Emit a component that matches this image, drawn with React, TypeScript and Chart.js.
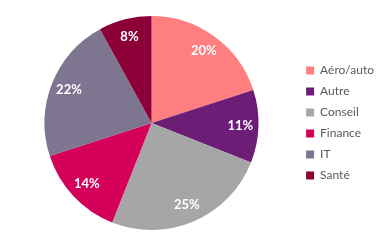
import React, { useEffect, useRef } from "react";
import { Chart, registerables } from "chart.js";

Chart.register(...registerables);

const categories = ["Aéro/auto", "Autre", "Conseil", "Finance", "IT", "Santé"];
const shares = [20, 11, 25, 14, 22, 8];
const sliceColors = ["#FF7F80", "#6C1E76", "#A6A6A6", "#D4005A", "#7E7590", "#8C0038"];

const labelPlugin = {
  id: "sliceLabels",
  afterDatasetsDraw(chart: any) {
    const ctx = chart.ctx;
    const meta = chart.getDatasetMeta(0);
    ctx.save();
    ctx.fillStyle = "#FFFFFF";
    ctx.font = "bold 13px Lato, 'Open Sans', sans-serif";
    ctx.textAlign = "center";
    ctx.textBaseline = "middle";
    meta.data.forEach((arc: any, i: number) => {
      const p = arc.getProps(["x", "y", "startAngle", "endAngle", "outerRadius"], true);
      const mid = (p.startAngle + p.endAngle) / 2;
      const r = p.outerRadius * 0.83;
      ctx.fillText(shares[i] + "%", p.x + Math.cos(mid) * r, p.y + Math.sin(mid) * r);
    });
    ctx.restore();
  },
};

export default function App() {
  const ref = useRef<HTMLCanvasElement>(null);
  useEffect(() => {
    if (!ref.current) return;
    const chart = new Chart(ref.current, {
      type: "pie",
      data: {
        labels: categories,
        datasets: [
          {
            data: shares,
            backgroundColor: sliceColors,
            borderWidth: 0,
          },
        ],
      },
      options: {
        responsive: false,
        animation: false,
        layout: { padding: { left: 6, top: 16, bottom: 20, right: -4 } },
        plugins: {
          tooltip: { enabled: false },
          legend: {
            position: "right",
            align: "center",
            labels: {
              boxWidth: 8,
              boxHeight: 8,
              padding: 9,
              color: "#595959",
              font: { size: 12, family: "Lato, 'Open Sans', sans-serif" },
            },
          },
        },
      },
      plugins: [labelPlugin],
    });
    return () => chart.destroy();
  }, []);
  return (
    <div style={{ position: "absolute", left: 0, top: 0, width: 380, height: 250, background: "#fff" }}>
      <canvas ref={ref} width={380} height={250} />
    </div>
  );
}
